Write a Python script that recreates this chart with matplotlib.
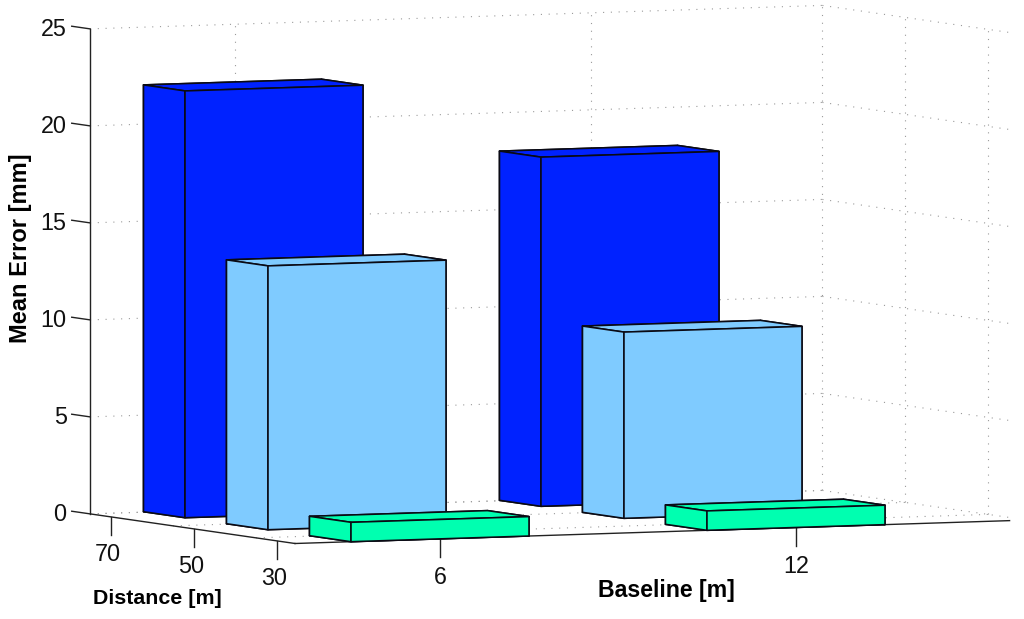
import numpy as np
import matplotlib
matplotlib.use("Agg")
import matplotlib.pyplot as plt
from mpl_toolkits.mplot3d import proj3d

baselines = [6, 12]
distances = [70, 50, 30]
errors_6 = [22.0, 13.6, 1.0]
errors_12 = [18.0, 9.6, 1.0]
bar_colors = ['#0022ff', '#7fcbff', '#00ffb0']
z_ticks = [0, 5, 10, 15, 20, 25]

W, H = 1024, 619
plt.rcParams['font.family'] = ['Liberation Sans', 'DejaVu Sans']
fig = plt.figure(figsize=(W / 100, H / 100), dpi=100)

# axis ranges and camera (orthographic view, as in the source)
xmin, xmax = 3.556, 15.9
ymin, ymax = 25.7, 75.1
zmin, zmax = 0, 25
elev, azim_off = 3.9, 25.2
px_x, px_y, px_z = 59.33, 4.15, 19.4     # on-screen pixels per data unit
front_corner = (295.0, 543.5)

a = np.radians(azim_off)
e = np.radians(elev)
L = 1300.0
xspan = (xmax - xmin) * px_x
yspan = (ymax - ymin) * px_y
zspan = (zmax - zmin) * px_z
box = np.array([xspan / np.cos(a), yspan / np.sin(a), zspan / np.cos(e)]) * 1.85 / L
zoom = np.linalg.norm(box) / (1.8294640721620434 * 25 / 24)
cx = front_corner[0] + xspan / 2 - yspan / 2
cy = front_corner[1] - xspan * np.tan(a) * np.sin(e) / 2 - yspan / np.tan(a) * np.sin(e) / 2 - zspan / 2
off = L * 0.095 / 0.185
ax = fig.add_axes([(cx - off) / W, (H - cy - off) / H, L / W, L / H], projection='3d',
                  proj_type='ortho', computed_zorder=False)
ax.set_xlim(xmin, xmax)
ax.set_ylim(ymin, ymax)
ax.set_zlim(zmin, zmax)
ax.view_init(elev=elev, azim=-90 - azim_off)
ax.set_box_aspect(box, zoom=zoom)
ax.set_axis_off()
ax.patch.set_alpha(0)
fig.canvas.draw()


def label3d(x, y, z, s, **kw):
    """Place a text at a 3D data position, through the axes' own projection."""
    x2, y2, _ = proj3d.proj_transform(x, y, z, ax.get_proj())
    ax.text2D(x2, y2, s, transform=ax.transData, clip_on=False, **kw)


# dotted grid on the back wall, right wall and floor
y_grid = [d + 5.1 for d in distances]
y_end = 30.1
grid_kw = dict(color='#9a9a9a', lw=0.8, ls=(0, (1, 6)), zorder=1)
for z in z_ticks:
    ax.plot([xmin, xmax], [ymax, ymax], [z, z], **grid_kw)
    ax.plot([xmax, xmax], [ymax, y_end], [z, z], **grid_kw)
for b in baselines:
    ax.plot([b, b], [ymax, ymax], [zmin, zmax], **grid_kw)
    ax.plot([b, b], [ymin, ymax], [zmin, zmin], **grid_kw)
for yg in y_grid:
    ax.plot([xmax, xmax], [yg, yg], [zmin, zmax], **grid_kw)
    ax.plot([xmin, xmax], [yg, yg], [zmin, zmin], **grid_kw)

# bars, back to front
bar_w, bar_d = 3.0, 10.0
order = 2
for i, d in enumerate(distances):
    for b, vals in zip(baselines[::-1], [errors_12, errors_6]):
        ax.bar3d(b - bar_w / 2, d - 4.3, 0, bar_w, bar_d, vals[i], color=bar_colors[i],
                 shade=False, edgecolor='#0a0a14', linewidth=1.15, zorder=order)
        order += 1

# axis lines and ticks
line_kw = dict(color='#222222', lw=1.0, zorder=1.5)
ax.plot([xmin, 15.6], [ymin, ymin], [0, 0], **line_kw)
ax.plot([xmin, xmin], [ymin, ymax + 4.4], [0, 0], **line_kw)
ax.plot([xmin, xmin], [ymax, ymax], [zmin, zmax], **line_kw)
for z in z_ticks[1:]:
    ax.plot([xmin, xmin], [ymax, ymax + 4.4], [z, z], **line_kw)
tick_len = 0.93
for b in baselines:
    ax.plot([b, b], [ymin, ymin], [0, -tick_len], zorder=1.5, color='#222222', lw=1.0)
for d in distances:
    ax.plot([xmin, xmin], [d, d], [0, -tick_len], zorder=1.5, color='#222222', lw=1.0)

fs = 16.8
for z in z_ticks:
    label3d(xmin, ymax + 5.6, z - 0.2, str(z), ha='right', va='center', fontsize=fs, color='#111111')
for b in baselines:
    label3d(b, ymin, -1.42, str(b), ha='center', va='top', fontsize=fs, color='#111111', zorder=20)
for d in distances:
    label3d(xmin, d + 0.7, -1.36, str(d), ha='center', va='top', fontsize=fs, color='#111111', zorder=20)

lab = dict(fontweight='bold', color='black')
fig.text(21 / W, 1 - 248 / H, 'Mean Error [mm]', rotation=90, ha='center', va='center', fontsize=17, **lab)
fig.text(157 / W, 1 - 598 / H, 'Distance [m]', ha='center', va='center', fontsize=15.4, **lab)
fig.text(666 / W, 1 - 591 / H, 'Baseline [m]', ha='center', va='center', fontsize=16.7, **lab)

fig.savefig('out.png', dpi=100)
